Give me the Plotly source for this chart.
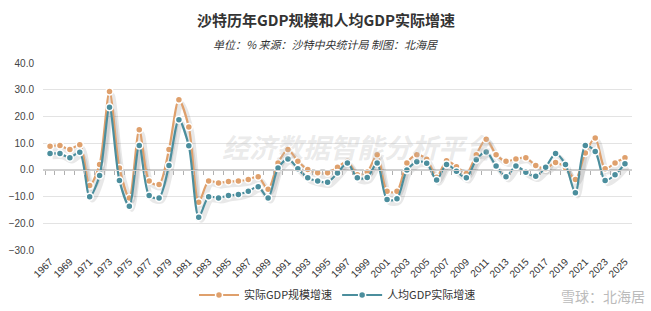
import plotly.graph_objects as go

years = list(range(1967, 2026))
gdp_growth = [8.8, 9.1, 7.6, 9.4, -5.9, 2.0, 29.3, 0.7, -10.5, 15.0,
              -4.2, -5.5, 7.6, 26.2, 16.0, -12.1, -4.2, -4.9, -4.4, -4.2,
              -3.6, -2.6, -7.3, 2.6, 7.6, 3.2, 0.1, -1.1, -1.1, 1.0,
              3.2, -1.8, -0.8, 5.7, -8.0, -8.0, 2.6, 5.7, 4.0, -2.8,
              3.4, 1.2, -1.4, 5.7, 11.5, 5.7, 3.2, 4.1, 4.5, 1.6,
              0.4, 2.8, 0.8, -3.6, 6.3, 11.9, 0.4, 2.6, 4.5]
pc_growth = [6.1, 6.1, 4.5, 6.6, -10.1, -2.1, 23.4, -4.0, -13.6, 9.1,
             -9.6, -10.5, 1.6, 18.8, 9.0, -17.7, -10.1, -10.5, -9.6, -9.2,
             -8.0, -6.3, -10.5, 0.7, 4.1, 0.4, -3.0, -4.2, -4.6, -1.2,
             2.6, -3.0, -2.9, 2.6, -11.1, -10.8, -0.1, 3.0, 2.5, -3.8,
             2.0, -0.5, -3.0, 3.8, 6.7, 1.4, -2.6, 1.4, -0.9, -2.4,
             1.0, 6.1, 2.0, -8.6, 9.1, 6.9, -4.0, -1.8, 2.3]
series_names = ["实际GDP规模增速", "人均GDP实际增速"]
colors = ["#DFA06C", "#4B8E9D"]
x_ticks = list(range(1967, 2026, 2))
y_ticks = [-30, -20, -10, 0, 10, 20, 30, 40]

title = "沙特历年GDP规模和人均GDP实际增速"
subtitle = "单位：% 来源：沙特中央统计局 制图：北海居"
watermark = "经济数据智能分析平台"
corner_mark = "雪球：北海居"

FONT = "Noto Sans CJK SC, Noto Sans, sans-serif"
xr = [1966.29, 2025.71]
yr = [-30, 40]

fig = go.Figure()

# invisible carrier trace so the base axes (grid, labels) render
fig.add_trace(go.Scatter(x=years, y=pc_growth, mode="markers",
                         marker=dict(opacity=0), showlegend=False, hoverinfo="skip"))

# shadows (drawn on shifted overlay axes)
for vals in (gdp_growth, pc_growth):
    fig.add_trace(go.Scatter(
        x=years, y=vals, mode="lines", line=dict(color="rgba(0,0,0,0.09)", width=5,
                                                  shape="spline", smoothing=0.8),
        xaxis="x2", yaxis="y2", showlegend=False, hoverinfo="skip"))

for vals, name, col in zip((gdp_growth, pc_growth), series_names, colors):
    fig.add_trace(go.Scatter(
        x=years, y=vals, name=name, mode="lines+markers",
        line=dict(color=col, width=2.2, shape="spline", smoothing=0.8),
        marker=dict(color=col, size=7, line=dict(color="white", width=1.5)),
        xaxis="x3", yaxis="y3"))

sx = 0.25
sy = 1.2
fig.update_layout(
    width=651, height=311,
    margin=dict(l=43, r=19, t=63, b=61),
    paper_bgcolor="white", plot_bgcolor="white",
    font=dict(family=FONT, color="#333", size=10),
    xaxis=dict(range=xr, tickmode="array", tickvals=x_ticks, ticktext=[str(v) for v in x_ticks],
               tickangle=-45, showgrid=False, zeroline=False, showline=False, ticks="",
               automargin=False,
               tickfont=dict(size=10, color="#333", family="Liberation Sans, Arial"), ticklabelstandoff=3),
    yaxis=dict(range=yr, tickmode="array", tickvals=y_ticks, tickformat=".1f",
               showgrid=True, gridcolor="#e3e3e3", gridwidth=1, zeroline=True,
               zerolinecolor="#cfcfcf", zerolinewidth=1, showline=False, automargin=False,
               tickfont=dict(size=10, color="#444", family="Liberation Sans, Arial"),
               ticklabelstandoff=8),
    xaxis2=dict(range=[xr[0] - sx, xr[1] - sx], overlaying="x", visible=False),
    yaxis2=dict(range=[yr[0] + sy, yr[1] + sy], overlaying="y", visible=False),
    xaxis3=dict(range=xr, overlaying="x", anchor="free", position=30 / 70,
                tickmode="array", tickvals=[y - 0.5 for y in years] + [2025.5],
                ticks="outside", ticklen=4, tickcolor="#b0b0b0", tickwidth=1,
                showticklabels=False, automargin=False,
                showgrid=False, zeroline=False, showline=True, linecolor="#cfcfcf"),
    yaxis3=dict(range=yr, overlaying="y", visible=False),
    legend=dict(orientation="h", x=0.5, xanchor="center", xref="paper",
                y=(311 - 295) / 311, yanchor="middle", yref="container",
                font=dict(size=11, color="#333", family=FONT), bgcolor="rgba(0,0,0,0)",
                itemwidth=40, traceorder="normal"),
    annotations=[
        dict(text="<b>" + title + "</b>", xref="paper", yref="paper", x=0.48, y=1.23,
             xanchor="center", yanchor="middle", showarrow=False,
             font=dict(size=15, color="#333", family=FONT)),
        dict(text="<i>" + subtitle + "</i>", xref="paper", yref="paper", x=0.48, y=1.10,
             xanchor="center", yanchor="middle", showarrow=False,
             font=dict(size=11, color="#333", family=FONT)),
        dict(text="<b><i>" + watermark + "</i></b>", xref="paper", yref="paper", x=0.535, y=0.556,
             xanchor="center", yanchor="middle", showarrow=False,
             font=dict(size=27, color="rgba(185,185,185,0.3)", family=FONT)),
        dict(text=corner_mark, xref="paper", yref="paper", x=1.025, y=-0.245,
             xanchor="right", yanchor="middle", showarrow=False,
             font=dict(size=14, color="#bbbbbb", family=FONT)),
    ],
)

fig.write_html("out.html")
